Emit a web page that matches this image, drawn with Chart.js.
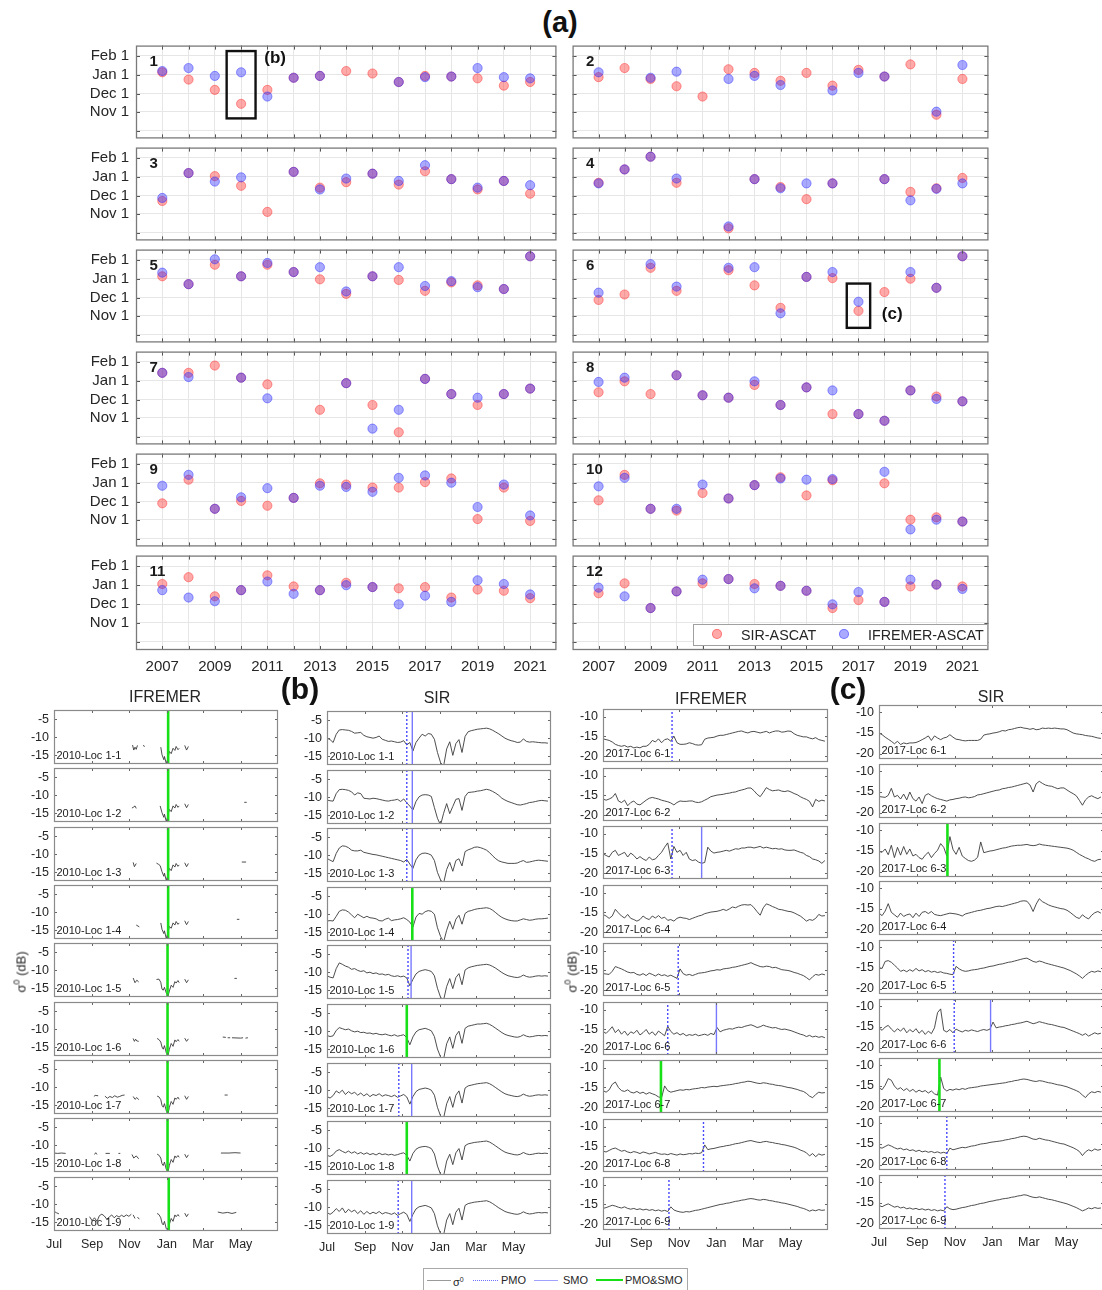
<!DOCTYPE html>
<html>
<head>
<meta charset="utf-8">
<script src="https://cdn.jsdelivr.net/npm/chart.js@4.4.1/dist/chart.umd.min.js"></script>
<style>
  html, body { margin: 0; padding: 0; background: #fff; overflow: hidden; }
  #page { position: relative; width: 1102px; height: 1290px; overflow: hidden;
          font-family: "Liberation Sans", Arial, Helvetica, sans-serif; color: #262626; }
  #page canvas { position: absolute; }
  .t { position: absolute; white-space: nowrap; line-height: 1; transform: translate(-50%, -50%); }
  .lg span { white-space: nowrap; }
</style>
</head>
<body>
<div id="page"></div>
<script>
// ---------------- (a) onset dates per location, days relative to Jan 1 ----------------
const years = [2007, 2008, 2009, 2010, 2011, 2012, 2013, 2014, 2015, 2016, 2017, 2018, 2019, 2020, 2021];
const onsetTickDays = [-92, -61, -31, 0, 31];
const onsetTickLabels = ['', 'Nov 1', 'Dec 1', 'Jan 1', 'Feb 1'];
const locationIds = ['1', '2', '3', '4', '5', '6', '7', '8', '9', '10', '11', '12'];

const sirOnset = [
  [4, -8, -25, -48, -25, -5, -2, 6, 2, -12, -2, -3, -6, -18, -12],
  [-4, 11, -7, -19, -36, 9, 3, -10, 3, -18, 8, -3, 17, -66, -7],
  [-40, 6, 1, -15, -58, 8, -18, -9, 5, -13, 9, -4, -21, -7, -28],
  [-10, 12, 33, -10, null, -85, -4, -17, -37, -11, null, -4, -25, -19, -2],
  [4, -9, 23, 4, 23, 11, -1, -25, 4, -2, -20, -6, -11, -17, 37],
  [-35, -26, 18, -20, null, 14, -11, -48, 3, 1, -53, -22, 0, -15, 37],
  [13, 13, 25, 5, -6, null, -48, -4, -40, -85, 3, -22, -40, -22, -13],
  [-19, -1, -22, 9, -24, -28, -7, -40, -11, -55, -55, -66, -16, -26, -34],
  [-34, 5, -43, -30, -38, -25, -1, -3, -8, -8, 1, 7, -60, -8, -63],
  [-29, 13, -43, -46, -17, -26, -4, 9, -21, 4, null, -1, -61, -57, -64],
  [2, 13, -18, -8, 16, -2, -8, 4, -3, -5, -3, -20, -7, -9, -21],
  [-13, 3, -37, -10, 3, 10, 2, -1, -9, -37, -24, -27, -2, 1, -2]
];
const ifremerOnset = [
  [6, 11, -2, 4, -36, -5, -2, null, null, -12, -4, -3, 11, -4, -6],
  [4, null, -5, 5, null, -7, -2, -17, null, -26, 3, -3, null, -61, 16],
  [-35, 6, -8, -1, null, 8, -21, -3, 5, -7, 19, -4, -18, -7, -14],
  [-11, 12, 33, -3, null, -82, -4, -19, -11, -11, null, -4, -39, -20, -11],
  [10, -9, 32, 4, 26, 11, 19, -21, 4, 19, -12, -4, -14, -17, 37],
  [-23, null, 24, -13, null, 18, 19, -57, 3, 11, -38, null, 11, -15, 37],
  [13, 6, null, 5, -29, null, null, -4, -79, -48, 3, -22, -28, -22, -13],
  [-2, 5, null, 9, -24, -28, -1, -40, -11, -16, -55, -66, -16, -30, -34],
  [-5, 13, -43, -24, -9, -25, -5, -7, -15, 8, 12, 0, -40, -3, -54],
  [-6, 8, -43, -43, -3, -26, -4, 7, 5, 6, null, 18, -77, -61, -64],
  [-8, -20, -26, -8, 6, -14, -8, 0, -3, -31, -17, -27, 8, 2, -15],
  [-4, -18, -37, -10, 9, 10, -5, -1, -9, -31, -11, -27, 9, 1, -6]
];

// ---------------- (b), (c) sigma0 time series, Jul 1 .. Jun 30 ----------------
const monthTickDays = [0, 62, 123, 184, 243, 304];
const monthTickLabels = ['Jul', 'Sep', 'Nov', 'Jan', 'Mar', 'May'];
const sampleStep = 5; // days between samples of the dense series, first sample on Jul 1

// IFREMER 2010, location 1 pixels: sparse [day, dB] pairs, null marks a gap
const ifremer2010 = [
  [[128,-12.2],[130,-13.6],[132,-12.8],[134,-13.4],[136,-12.3],null,[145,-12.3],[148,-12.6],null,
   [174,-12.8],[176,-14.9],[179,-16.3],[180,-15.4],[183,-17.4],[186,-15.6],[188,-14.0],[191,-14.6],[194,-13.1],[197,-13.7],[199,-12.6],[202,-13.5],[204,-13.1],null,
   [213,-12.3],[216,-13.6],[219,-12.6]],
  [[127,-13.6],[130,-13.3],[132,-13.0],[134,-13.7],null,
   [173,-13.0],[176,-14.9],[179,-16.2],[180,-15.3],[183,-17.4],[186,-15.4],[188,-14.0],[191,-14.6],[194,-13.0],[197,-13.6],[199,-12.6],[202,-13.4],[204,-13.0],null,
   [213,-12.4],[216,-13.5],[219,-12.6],null,[310,-12.0],[314,-12.0]],
  [[129,-12.3],[131,-13.5],[134,-12.6],null,
   [167,-12.5],[170,-12.8],[173,-13.2],[176,-14.9],[179,-16.2],[180,-15.3],[183,-17.4],[186,-15.5],[188,-14.0],[191,-14.6],[194,-13.0],[197,-13.6],[199,-12.6],[202,-13.4],[204,-13.0],null,
   [213,-12.4],[216,-13.5],[219,-12.6],null,[306,-12.2],[313,-12.2]],
  [[134,-13.6],[139,-14.1],null,
   [174,-13.0],[176,-14.8],[179,-16.0],[180,-15.2],[183,-17.4],[186,-15.4],[188,-14.0],[191,-14.5],[194,-13.0],[197,-13.6],[199,-12.6],[202,-13.4],[204,-13.0],null,
   [213,-12.4],[216,-13.5],[219,-12.6],null,[298,-12.0],[302,-12.0]],
  [[129,-12.2],[132,-13.5],[135,-12.8],[138,-13.3],null,
   [167,-12.6],[171,-12.5],[174,-13.4],[176,-15.3],[178,-15.6],[180,-14.8],[183,-16.4],[186,-17.2],[188,-15.8],[191,-14.2],[194,-14.8],[197,-13.2],[199,-13.6],[202,-12.9],[204,-13.5],null,
   [213,-12.5],[216,-13.5],[219,-12.7],null,[294,-12.3],[298,-12.3]],
  [[12,-12.2],[13,-12.2],null,[129,-12.6],[131,-13.4],[133,-12.8],[135,-13.3],[138,-13.4],null,
   [168,-12.6],[171,-12.9],[174,-13.6],[176,-15.0],[178,-15.6],[180,-14.6],[183,-16.6],[186,-17.2],[188,-15.6],[191,-14.0],[194,-14.8],[197,-13.0],[199,-13.5],[202,-12.9],[204,-13.4],null,
   [213,-12.5],[216,-13.4],[219,-12.7],null,
   [275,-12.2],[280,-12.3],null,[283,-12.4],[287,-12.4],null,[290,-12.4],[304,-12.5],[308,-12.4],null,[312,-12.5],[316,-12.4]],
  [[5,-12.3],[6,-12.3],null,[65,-12.6],[67,-12.3],[72,-12.4],null,[83,-12.5],[87,-13.1],[91,-12.6],[95,-12.9],[99,-12.4],[103,-12.8],[107,-12.6],[111,-12.3],[115,-12.2],null,
   [129,-12.6],[132,-13.4],[135,-12.9],[138,-13.5],null,
   [168,-12.5],[171,-12.7],[174,-13.5],[176,-15.1],[178,-15.6],[180,-14.6],[183,-16.6],[186,-17.3],[188,-15.6],[191,-14.0],[194,-14.8],[197,-13.0],[199,-13.4],[202,-12.8],[204,-13.4],null,
   [213,-12.4],[216,-13.4],[219,-12.6],null,[278,-12.2],[283,-12.2]],
  [[0,-12.2],[6,-12.3],[12,-12.2],[19,-12.3],null,[66,-12.6],[68,-12.1],[70,-12.6],null,[84,-12.3],[91,-12.3],null,[105,-12.3],[108,-12.3],null,
   [127,-12.6],[130,-13.6],[134,-13.0],[138,-13.8],null,
   [168,-12.5],[171,-12.8],[174,-13.6],[176,-15.2],[178,-15.7],[180,-14.7],[183,-16.8],[186,-17.3],[188,-15.6],[191,-14.0],[194,-14.8],[197,-13.0],[199,-13.5],[202,-12.9],[204,-13.4],null,
   [213,-12.5],[216,-13.5],[219,-12.7],null,[272,-12.2],[285,-12.2],[295,-12.1],[304,-12.2]],
  [[0,-12.0],[4,-12.4],[8,-12.7],null,[58,-13.5],[62,-14.6],[66,-13.8],[70,-14.8],[74,-13.2],[78,-12.8],[82,-13.3],[86,-14.2],[90,-13.6],[94,-13.0],[98,-13.8],[102,-13.2],[106,-13.6],[110,-13.1],[114,-13.5],[118,-13.0],[122,-13.4],[126,-12.8],null,
   [129,-13.0],[132,-14.0],null,[136,-13.6],[139,-14.2],null,
   [168,-12.6],[171,-12.9],[174,-13.8],[176,-15.3],[178,-15.8],[180,-14.8],[183,-16.9],[186,-17.4],[188,-15.6],[191,-14.0],[194,-14.8],[197,-13.0],[199,-13.5],[202,-12.9],[204,-13.4],null,
   [213,-12.5],[216,-13.5],[219,-12.7],null,[267,-12.2],[275,-12.5],[283,-12.3],[290,-12.6],[297,-12.3]]
];

// SIR 2010, location 1 pixels, one value every sampleStep days
const sir2010 = [
  [-10.0,-10.4,-11.2,-8.9,-7.7,-7.6,-7.7,-7.8,-8.1,-8.6,
   -8.5,-8.4,-9.2,-9.6,-9.8,-10.0,-9.8,-9.4,-10.3,-10.6,
   -10.9,-10.8,-11.0,-11.2,-11.1,-10.7,-11.9,-11.2,-13.6,-11.2,
   -10.0,-8.9,-9.4,-8.7,-8.9,-10.3,-14.0,-16.8,-17.8,-13.0,
   -11.0,-14.8,-11.5,-10.4,-14.0,-9.5,-8.2,-7.9,-7.7,-7.5,
   -7.4,-7.3,-7.2,-7.4,-7.8,-8.3,-8.8,-9.4,-10.0,-10.4,
   -10.7,-10.9,-11.2,-11.1,-10.2,-10.9,-11.1,-11.0,-11.1,-11.2,
   -11.3,-11.3,-11.4],
  [-10.8,-11.0,-11.1,-9.0,-7.9,-7.8,-7.9,-8.1,-8.5,-9.4,
   -8.8,-9.0,-10.3,-10.4,-10.5,-10.3,-10.4,-10.6,-10.8,-11.0,
   -11.1,-10.9,-10.8,-10.6,-11.2,-10.5,-11.6,-12.5,-13.6,-11.2,
   -9.9,-9.4,-9.3,-9.4,-9.8,-12.9,-15.9,-17.8,-14.5,-11.8,
   -14.6,-12.6,-10.6,-10.4,-13.7,-9.8,-8.7,-8.6,-8.5,-8.3,
   -8.2,-8.0,-7.8,-8.0,-8.4,-8.9,-9.5,-10.3,-10.8,-11.2,
   -11.5,-11.8,-12.1,-12.2,-12.0,-11.8,-11.5,-11.4,-11.2,-11.0,
   -10.9,-11.0,-11.1],
  [-10.9,-11.4,-11.8,-9.5,-8.0,-7.4,-7.5,-7.9,-8.6,-8.8,
   -8.8,-8.6,-9.2,-9.4,-9.6,-9.8,-9.9,-10.1,-10.3,-10.5,
   -10.7,-10.9,-11.1,-11.3,-11.5,-11.9,-11.2,-12.5,-13.7,-11.3,
   -10.0,-9.5,-9.4,-9.6,-10.0,-11.5,-14.8,-16.9,-17.8,-14.0,
   -12.0,-14.5,-11.5,-11.0,-13.0,-9.0,-8.5,-8.2,-7.8,-7.7,
   -7.9,-8.2,-8.6,-9.3,-10.2,-11.0,-11.6,-11.9,-12.1,-12.3,
   -12.3,-12.3,-12.2,-11.8,-11.5,-12.0,-11.9,-11.7,-11.5,-11.4,
   -11.5,-11.6,-11.7],
  [-11.9,-11.8,-11.9,-10.6,-9.2,-8.8,-8.9,-9.4,-10.2,-11.0,
   -10.0,-10.5,-11.0,-10.6,-11.0,-11.1,-11.3,-11.8,-11.9,-11.4,
   -11.1,-11.8,-11.6,-11.5,-11.3,-11.0,-11.5,-12.2,-13.6,-10.8,
   -9.8,-10.0,-9.3,-9.0,-9.2,-10.0,-13.8,-16.2,-17.8,-14.5,
   -12.0,-14.2,-11.4,-10.3,-12.8,-9.8,-9.2,-9.0,-8.7,-8.5,
   -8.4,-8.3,-8.2,-8.4,-8.9,-9.6,-10.3,-10.9,-11.3,-11.6,
   -11.8,-11.9,-11.9,-11.6,-11.3,-11.5,-11.7,-11.6,-11.4,-11.3,
   -11.3,-11.2,-11.1],
  [-11.0,-11.4,-11.6,-9.0,-7.4,-7.8,-8.3,-8.6,-9.2,-9.0,
   -9.5,-9.8,-9.6,-10.2,-10.0,-10.4,-10.2,-10.6,-10.5,-10.8,
   -10.6,-11.0,-11.2,-11.0,-11.3,-11.1,-11.6,-13.8,-12.0,-10.5,
   -9.8,-9.5,-9.3,-9.5,-9.8,-11.0,-14.5,-17.0,-17.8,-14.0,
   -11.8,-14.6,-11.5,-10.4,-13.5,-9.4,-8.8,-8.5,-8.3,-8.1,
   -8.0,-7.9,-7.8,-8.0,-8.4,-8.9,-9.5,-10.1,-10.6,-11.0,
   -11.2,-11.4,-11.5,-11.3,-10.8,-11.2,-11.4,-11.3,-11.1,-11.0,
   -11.1,-11.0,-11.1],
  [-11.2,-11.5,-11.3,-9.8,-9.0,-9.3,-9.6,-9.4,-9.9,-10.2,
   -10.0,-10.4,-10.3,-10.6,-10.5,-10.8,-10.6,-10.9,-11.0,-10.8,
   -11.1,-11.3,-11.0,-11.4,-11.2,-11.0,-11.8,-13.8,-11.6,-10.2,
   -9.6,-9.4,-9.2,-9.5,-9.9,-11.5,-15.0,-17.2,-17.8,-13.5,
   -11.6,-14.8,-11.2,-10.0,-13.4,-9.2,-8.6,-8.4,-8.2,-8.0,
   -8.0,-7.9,-7.8,-8.1,-8.6,-9.2,-9.8,-10.4,-10.9,-11.2,
   -11.4,-11.6,-11.7,-11.5,-11.0,-11.4,-11.6,-11.5,-11.3,-11.2,
   -11.3,-11.2,-11.3],
  [-11.8,-12.2,-11.5,-10.2,-10.8,-10.0,-11.2,-10.4,-11.0,-10.6,
   -11.4,-10.8,-11.6,-11.0,-11.8,-11.2,-11.5,-11.0,-11.7,-11.3,
   -11.5,-11.8,-11.4,-12.0,-11.6,-11.2,-11.9,-13.9,-11.8,-10.4,
   -9.8,-9.6,-9.4,-9.6,-10.0,-11.4,-14.8,-17.2,-17.8,-13.8,
   -11.8,-14.8,-11.4,-10.2,-13.6,-9.4,-8.8,-8.6,-8.4,-8.2,
   -8.1,-8.0,-7.9,-8.2,-8.7,-9.3,-9.9,-10.5,-11.0,-11.3,
   -11.5,-11.7,-11.8,-11.6,-11.1,-11.5,-11.7,-11.6,-11.4,-11.3,
   -11.4,-11.3,-11.4],
  [-12.0,-12.3,-11.8,-10.8,-10.4,-10.9,-11.3,-10.8,-11.4,-11.0,
   -11.6,-11.2,-11.7,-11.3,-11.8,-11.5,-11.9,-11.4,-11.8,-11.6,
   -11.9,-11.7,-12.0,-11.8,-11.5,-11.3,-12.0,-13.6,-11.5,-10.3,
   -9.8,-9.6,-9.5,-9.7,-10.1,-11.6,-15.0,-17.3,-17.8,-13.6,
   -11.7,-14.6,-11.3,-10.1,-13.3,-9.3,-8.8,-8.6,-8.4,-8.3,
   -8.2,-8.1,-8.0,-8.3,-8.8,-9.4,-10.0,-10.6,-11.1,-11.4,
   -11.6,-11.8,-11.9,-11.7,-11.2,-11.6,-11.8,-11.7,-11.5,-11.4,
   -11.5,-11.4,-11.5],
  [-11.5,-12.0,-11.4,-10.4,-11.2,-10.2,-11.6,-10.6,-11.3,-10.8,
   -11.8,-11.0,-12.0,-11.2,-11.9,-11.4,-11.8,-11.2,-11.9,-11.5,
   -11.7,-12.0,-11.6,-12.3,-11.8,-11.4,-12.0,-14.0,-12.0,-10.5,
   -9.9,-9.7,-9.5,-9.8,-10.2,-11.8,-15.2,-17.4,-17.8,-13.6,
   -11.8,-14.9,-11.4,-10.3,-13.6,-9.5,-9.0,-8.8,-8.6,-8.5,
   -8.4,-8.3,-8.2,-8.5,-9.0,-9.6,-10.2,-10.7,-11.2,-11.5,
   -11.7,-11.9,-12.0,-11.8,-11.3,-11.7,-11.9,-11.8,-11.6,-11.5,
   -11.6,-11.5,-11.6]
];

// IFREMER 2017, location 6 pixels
const ifremer2017 = [
  [-15.6,-15.8,-16.0,-16.4,-17.0,-17.3,-17.5,-17.3,-17.7,-17.5,
   -17.9,-17.7,-17.9,-17.5,-17.5,-17.0,-16.0,-16.4,-15.6,-16.6,
   -15.8,-15.6,-16.2,-14.9,-16.6,-17.0,-17.0,-16.9,-16.6,-16.8,
   -17.1,-17.2,-17.1,-15.7,-15.4,-15.3,-15.2,-14.9,-14.7,-14.7,
   -14.5,-14.3,-14.1,-13.9,-13.7,-13.6,-13.9,-14.1,-13.8,-13.7,
   -13.9,-14.1,-13.9,-13.7,-14.1,-13.8,-13.6,-13.6,-13.9,-13.8,
   -13.6,-13.7,-14.3,-14.7,-14.9,-15.1,-15.1,-15.4,-15.6,-15.3,
   -15.8,-16.0,-16.2],
  [-15.9,-16.2,-15.9,-15.5,-14.5,-16.4,-16.8,-16.2,-17.6,-16.8,
   -16.4,-17.2,-17.4,-16.8,-16.2,-15.7,-15.5,-15.7,-15.9,-16.2,
   -16.4,-16.6,-16.9,-17.4,-16.8,-16.4,-16.5,-16.5,-16.4,-16.4,
   -16.7,-16.8,-16.6,-16.2,-15.8,-15.3,-15.1,-14.9,-14.8,-14.7,
   -14.5,-14.4,-14.2,-14.1,-13.8,-13.6,-13.4,-13.1,-13.1,-13.8,
   -14.7,-15.3,-14.2,-13.0,-13.5,-13.8,-13.7,-13.6,-13.9,-14.0,
   -13.8,-14.1,-14.5,-14.8,-15.3,-15.7,-16.0,-16.5,-17.9,-16.0,
   -16.5,-16.2,-16.4],
  [-15.1,-15.5,-15.9,-14.7,-14.2,-15.5,-15.1,-14.7,-15.9,-14.9,
   -15.5,-16.4,-15.8,-16.4,-16.8,-15.9,-16.6,-16.4,-15.5,-14.7,
   -13.4,-12.3,-16.4,-13.2,-14.7,-14.2,-15.5,-14.7,-16.4,-16.8,
   -16.6,-17.2,-17.5,-17.3,-13.4,-14.4,-14.9,-14.7,-14.6,-14.4,
   -14.2,-14.4,-14.1,-13.8,-13.9,-13.6,-13.6,-13.4,-13.4,-13.6,
   -13.4,-13.2,-13.6,-13.4,-13.6,-13.8,-13.7,-13.9,-13.8,-14.1,
   -14.2,-14.2,-14.1,-14.4,-14.7,-14.9,-15.5,-15.8,-16.4,-16.6,
   -16.9,-17.5,-16.8],
  [-15.5,-15.9,-16.5,-15.9,-14.2,-15.1,-15.9,-16.4,-15.5,-16.5,
   -16.8,-17.2,-16.8,-15.9,-16.5,-16.8,-15.9,-16.4,-15.8,-16.5,
   -16.2,-17.0,-16.8,-17.2,-16.5,-16.2,-16.4,-16.5,-16.8,-16.5,
   -16.2,-15.9,-15.7,-15.3,-15.1,-14.9,-14.8,-14.7,-14.5,-14.2,
   -14.5,-14.1,-13.6,-13.8,-13.4,-13.1,-13.0,-13.1,-13.0,-13.8,
   -14.8,-15.7,-13.8,-12.8,-13.1,-13.5,-13.8,-14.2,-14.3,-14.5,
   -14.7,-14.8,-15.1,-15.5,-15.9,-16.5,-17.2,-16.8,-17.0,-16.5,
   -15.5,-15.9,-15.8],
  [-15.8,-15.9,-16.0,-15.2,-14.0,-14.3,-14.6,-15.0,-15.4,-15.6,
   -15.5,-16.0,-16.2,-15.8,-16.3,-15.7,-16.0,-16.4,-15.9,-16.3,
   -16.1,-16.5,-16.2,-16.6,-17.0,-14.6,-15.8,-16.2,-16.0,-16.3,
   -16.0,-15.7,-15.6,-15.5,-15.3,-15.1,-15.0,-14.8,-14.9,-14.6,
   -14.5,-14.4,-14.2,-14.1,-13.9,-13.7,-13.5,-13.3,-13.0,-13.4,
   -13.7,-14.0,-14.1,-13.9,-14.0,-14.3,-14.2,-14.5,-14.8,-14.9,
   -15.0,-15.2,-15.5,-15.7,-16.0,-16.3,-16.8,-17.4,-16.6,-16.0,
   -16.2,-15.9,-16.1],
  [-15.5,-16.0,-15.2,-14.3,-15.8,-15.0,-16.2,-15.4,-16.5,-15.6,
   -16.0,-15.2,-16.4,-15.8,-15.0,-16.2,-15.6,-16.5,-15.4,-16.0,
   -16.6,-14.2,-15.5,-16.2,-15.8,-16.4,-16.0,-16.6,-16.3,-16.5,
   -16.2,-16.6,-16.4,-16.2,-16.5,-16.0,-16.3,-14.5,-15.6,-15.2,
   -15.0,-14.8,-14.9,-14.6,-14.4,-14.5,-14.2,-14.0,-13.8,-14.1,
   -14.5,-14.3,-13.9,-14.2,-14.4,-14.6,-14.5,-14.8,-15.0,-14.9,
   -15.1,-15.3,-15.6,-15.9,-16.2,-16.4,-16.8,-16.5,-16.9,-16.7,
   -17.0,-16.8,-17.1],
  [-15.8,-16.2,-15.6,-14.2,-13.6,-15.0,-15.8,-16.0,-15.6,-16.2,
   -16.4,-16.0,-16.5,-16.2,-16.7,-16.3,-16.6,-16.9,-17.4,-17.6,
   -14.6,-15.8,-16.2,-16.0,-15.8,-15.6,-15.7,-15.5,-15.6,-15.4,
   -15.3,-15.2,-15.0,-15.1,-14.9,-14.8,-14.7,-14.8,-14.6,-14.5,
   -14.4,-14.3,-14.2,-14.0,-13.9,-13.7,-13.6,-13.4,-13.5,-13.7,
   -13.9,-14.0,-13.8,-13.9,-14.1,-14.2,-14.4,-14.5,-14.6,-14.8,
   -15.0,-15.1,-15.3,-15.5,-15.8,-16.0,-16.5,-17.2,-17.6,-16.8,
   -16.2,-16.4,-16.3],
  [-16.2,-16.4,-16.0,-15.6,-15.4,-15.8,-16.2,-16.0,-16.4,-16.6,
   -16.3,-16.5,-16.8,-16.4,-16.6,-16.9,-16.7,-16.5,-16.8,-17.0,
   -16.9,-17.1,-16.8,-17.0,-17.2,-16.9,-17.1,-17.0,-16.8,-16.9,
   -16.7,-16.8,-16.6,-14.6,-15.8,-15.6,-15.5,-15.3,-15.1,-15.0,
   -14.8,-14.7,-14.5,-14.3,-14.2,-14.0,-13.8,-13.6,-13.5,-13.7,
   -13.9,-14.0,-13.8,-13.7,-13.9,-14.0,-14.2,-14.3,-14.5,-14.6,
   -14.8,-15.0,-15.2,-15.5,-15.9,-16.2,-16.6,-17.4,-16.8,-17.6,
   -16.9,-17.2,-17.0],
  [-16.0,-15.8,-15.5,-15.2,-15.4,-15.7,-15.9,-15.6,-16.0,-16.2,
   -16.0,-16.3,-16.1,-16.4,-16.2,-16.5,-16.3,-16.6,-16.4,-16.7,
   -16.5,-16.8,-15.6,-16.4,-16.7,-16.9,-17.0,-16.8,-16.9,-16.7,
   -16.5,-16.4,-16.2,-16.0,-15.8,-15.6,-15.4,-15.2,-15.0,-14.9,
   -14.7,-14.6,-14.4,-14.2,-14.1,-13.9,-13.8,-13.6,-13.5,-13.6,
   -13.8,-13.9,-13.7,-13.8,-14.0,-14.1,-14.3,-14.4,-14.6,-14.7,
   -14.9,-15.1,-15.3,-15.5,-15.8,-16.0,-16.3,-16.7,-16.4,-16.6,
   -16.3,-16.5,-16.4]
];

// SIR 2017, location 6 pixels
const sir2017 = [
  [-15.0,-15.4,-16.0,-16.5,-17.0,-17.6,-17.0,-17.8,-17.4,-17.6,
   -17.4,-17.4,-17.3,-17.0,-16.6,-16.2,-15.7,-16.8,-15.7,-16.2,
   -16.6,-16.2,-16.0,-15.4,-16.0,-16.5,-16.6,-16.8,-16.9,-16.8,
   -16.8,-16.8,-16.8,-16.5,-15.5,-15.3,-15.2,-15.0,-14.9,-14.7,
   -14.4,-14.5,-14.2,-14.1,-13.9,-13.7,-13.6,-13.8,-13.9,-14.1,
   -13.9,-14.2,-14.1,-13.8,-13.9,-13.8,-13.9,-13.8,-13.9,-14.0,
   -14.0,-14.2,-14.6,-15.0,-15.2,-15.3,-15.4,-15.6,-15.7,-15.8,
   -16.0,-16.2,-16.3],
  [-16.1,-16.2,-16.3,-15.8,-14.1,-16.2,-15.8,-16.7,-15.5,-16.9,
   -15.0,-16.6,-17.2,-16.2,-17.8,-15.8,-15.4,-15.9,-16.3,-16.6,
   -16.8,-17.0,-17.2,-16.9,-16.8,-16.6,-16.5,-16.3,-16.2,-16.4,
   -16.3,-16.1,-15.7,-15.6,-15.4,-15.2,-15.0,-14.8,-14.6,-14.5,
   -14.2,-14.1,-13.9,-13.8,-13.6,-13.4,-13.2,-13.0,-12.8,-13.3,
   -15.0,-13.0,-12.4,-12.9,-13.3,-13.5,-13.6,-13.9,-14.2,-14.0,
   -14.0,-14.5,-15.0,-15.4,-15.9,-17.0,-18.2,-16.9,-16.2,-15.9,
   -16.3,-16.6,-16.2],
  [-15.1,-15.3,-14.5,-15.9,-13.6,-16.6,-14.1,-16.0,-13.9,-15.8,
   -14.5,-16.2,-15.8,-16.6,-17.0,-16.0,-15.3,-16.6,-15.6,-14.8,
   -13.2,-14.1,-16.2,-11.5,-14.6,-15.8,-14.1,-16.2,-16.8,-17.3,
   -17.5,-17.2,-16.5,-12.8,-15.4,-15.2,-15.0,-14.9,-14.7,-14.5,
   -14.3,-14.2,-14.0,-13.8,-13.7,-13.6,-13.6,-13.5,-13.4,-13.6,
   -13.7,-13.6,-13.3,-13.5,-13.6,-13.7,-13.8,-13.9,-14.0,-14.1,
   -14.2,-14.3,-14.5,-14.8,-15.3,-15.8,-16.2,-16.6,-16.9,-17.3,
   -17.5,-17.1,-17.0],
  [-16.0,-16.6,-15.5,-13.7,-15.8,-16.4,-17.0,-16.0,-16.8,-16.4,
   -16.2,-17.1,-16.0,-16.8,-15.8,-15.6,-16.1,-15.6,-16.3,-16.5,
   -16.6,-16.4,-16.2,-16.0,-16.1,-16.2,-16.4,-16.7,-16.2,-16.0,
   -15.8,-15.6,-15.4,-15.3,-15.1,-14.9,-14.8,-14.6,-14.4,-14.3,
   -14.4,-14.2,-14.0,-13.8,-13.6,-13.4,-13.1,-13.0,-13.1,-14.0,
   -15.6,-13.8,-12.5,-13.2,-13.6,-14.0,-14.3,-14.5,-14.7,-14.9,
   -15.0,-15.3,-15.8,-16.4,-17.0,-17.3,-16.4,-17.0,-17.4,-16.5,
   -15.9,-15.6,-16.0],
  [-14.9,-15.1,-13.4,-13.2,-13.6,-14.3,-15.0,-15.8,-15.5,-15.9,
   -15.4,-15.8,-15.1,-15.7,-15.4,-15.9,-15.6,-16.0,-15.8,-16.1,
   -15.9,-16.2,-16.3,-16.5,-16.6,-14.6,-15.2,-15.6,-15.8,-15.7,
   -15.5,-15.4,-15.3,-15.1,-15.0,-14.8,-14.6,-14.5,-14.3,-14.1,
   -14.0,-13.8,-13.6,-13.5,-13.3,-13.1,-12.9,-12.7,-12.6,-13.0,
   -13.4,-13.6,-13.3,-13.5,-13.8,-14.0,-14.2,-14.4,-14.6,-14.8,
   -15.0,-15.3,-15.6,-16.0,-16.4,-16.9,-17.5,-16.8,-16.2,-15.8,
   -16.0,-15.7,-15.9],
  [-15.2,-15.8,-15.0,-14.6,-15.5,-16.2,-15.4,-16.0,-15.2,-16.4,
   -15.6,-16.2,-15.4,-16.5,-15.8,-16.8,-16.0,-16.6,-15.2,-11.5,
   -10.6,-15.8,-16.2,-15.6,-16.4,-15.5,-15.9,-16.2,-15.8,-16.0,
   -15.7,-15.9,-16.1,-15.8,-15.6,-15.8,-15.5,-13.8,-15.2,-15.0,
   -14.9,-14.7,-14.6,-14.4,-14.3,-14.1,-14.0,-13.8,-13.6,-13.9,
   -14.2,-14.0,-13.7,-13.9,-14.1,-14.3,-14.4,-14.6,-14.8,-15.0,
   -15.1,-15.4,-15.7,-16.0,-16.3,-16.6,-17.0,-16.6,-17.2,-16.8,
   -16.4,-16.7,-16.5],
  [-15.4,-15.9,-14.8,-13.2,-13.6,-15.0,-15.8,-15.4,-16.1,-15.6,
   -16.3,-15.8,-16.5,-16.0,-16.4,-16.1,-16.7,-16.2,-16.9,-17.2,
   -12.8,-15.6,-16.2,-15.8,-16.0,-15.7,-15.9,-15.6,-15.8,-15.5,
   -15.4,-15.3,-15.2,-15.0,-14.9,-14.8,-14.7,-14.6,-14.5,-14.4,
   -14.3,-14.2,-14.0,-13.9,-13.7,-13.6,-13.4,-13.3,-13.4,-13.6,
   -13.8,-13.9,-13.7,-13.8,-14.0,-14.2,-14.3,-14.5,-14.7,-14.8,
   -15.0,-15.2,-15.5,-15.8,-16.1,-16.5,-17.2,-17.8,-16.9,-16.4,
   -16.6,-16.3,-16.5],
  [-15.8,-16.0,-15.6,-15.2,-15.5,-15.9,-16.2,-16.0,-16.4,-16.2,
   -16.6,-16.4,-16.8,-16.5,-16.9,-16.7,-17.0,-16.8,-17.1,-16.9,
   -17.2,-17.0,-17.3,-16.0,-16.4,-16.2,-16.0,-15.8,-15.9,-15.7,
   -15.5,-15.4,-15.2,-15.0,-14.9,-14.8,-14.6,-14.5,-14.4,-14.3,
   -14.2,-14.0,-13.9,-13.7,-13.6,-13.4,-13.2,-13.1,-13.2,-13.5,
   -13.8,-13.9,-13.6,-13.8,-14.0,-14.1,-14.3,-14.5,-14.7,-14.9,
   -15.0,-15.3,-15.6,-15.9,-16.3,-16.8,-17.8,-16.9,-16.4,-16.7,
   -16.2,-16.5,-16.3],
  [-15.6,-15.9,-15.5,-15.2,-15.6,-16.0,-15.8,-16.2,-16.0,-16.4,
   -16.2,-16.5,-16.3,-16.6,-16.4,-16.7,-16.5,-16.8,-16.6,-16.9,
   -16.7,-16.9,-15.9,-16.4,-16.6,-16.5,-16.3,-16.1,-16.0,-15.8,
   -15.6,-15.5,-15.3,-15.1,-15.0,-14.8,-14.6,-14.5,-14.3,-14.2,
   -14.0,-13.9,-13.8,-13.6,-13.5,-13.3,-13.2,-13.0,-13.1,-13.4,
   -13.6,-13.7,-13.5,-13.7,-13.9,-14.1,-14.2,-14.4,-14.6,-14.8,
   -15.0,-15.2,-15.5,-15.8,-16.1,-16.5,-16.9,-16.6,-16.2,-16.4,
   -16.1,-16.3,-16.2]
];

// detected melt-onset days (days since Jul 1) per pixel; null = not detected
const ifremer2010Pmo = [null, null, null, null, null, null, null, null, null];
const ifremer2010Smo = [null, null, null, null, null, null, null, null, null];
const ifremer2010Both = [186, 186, 186, 186, 185, 185, 185, 185, 187];
const sir2010Pmo = [130, 130, 130, null, 132, null, 117, null, 116];
const sir2010Smo = [139, 139, 139, null, 137, null, 138, null, 138];
const sir2010Both = [null, null, null, 139, null, 130, null, 130, null];
const ifremer2017Pmo = [112, null, 112, null, 122, 105, null, 163, 107];
const ifremer2017Smo = [null, null, 160, null, null, 184, null, null, null];
const ifremer2017Both = [null, null, null, null, null, null, 94, null, null];
const sir2017Pmo = [null, null, null, null, 121, 122, null, 110, 107];
const sir2017Smo = [null, null, null, null, null, 181, null, null, null];
const sir2017Both = [null, null, 111, null, null, null, 98, null, null];

// ---------------- drawing ----------------
const FONT = '"Liberation Sans", Arial, Helvetica, sans-serif';
Chart.defaults.font.family = FONT;
const page = document.getElementById('page');

function addText(html, x, y, style) {
  const d = document.createElement('div');
  d.className = 't';
  d.innerHTML = html;
  d.style.left = x + 'px';
  d.style.top = y + 'px';
  Object.assign(d.style, style || {});
  page.appendChild(d);
  return d;
}

function makeCanvas(rect, pad) {
  const cv = document.createElement('canvas');
  const W = rect.w + pad.l + pad.r, H = rect.h + pad.t + pad.b;
  cv.width = W; cv.height = H;
  cv.style.left = (rect.x - pad.l) + 'px';
  cv.style.top = (rect.y - pad.t) + 'px';
  cv.style.width = W + 'px';
  cv.style.height = H + 'px';
  page.appendChild(cv);
  return cv;
}

// fixed axis sizes, no extra room reserved for edge labels
function fixSize(size, horizontal) {
  return s => {
    if (horizontal) s.height = size; else s.width = size;
    s.paddingTop = 0; s.paddingBottom = 0; s.paddingLeft = 0; s.paddingRight = 0;
  };
}

// axes box with inward tick marks on all four sides, plus in-panel labels
function framePlugin(o) {
  return {
    id: 'frame',
    afterDatasetsDraw(chart) {
      const ctx = chart.ctx, a = chart.chartArea, sx = chart.scales.x, sy = chart.scales.y;
      ctx.save();
      ctx.lineWidth = 1;
      ctx.strokeStyle = o.tickColor;
      ctx.beginPath();
      for (const t of sx.ticks) {
        const p = Math.round(sx.getPixelForValue(t.value)) + 0.5;
        if (p < a.left + 2 || p > a.right - 2) continue;
        ctx.moveTo(p, a.bottom); ctx.lineTo(p, a.bottom - o.tickLen);
        ctx.moveTo(p, a.top); ctx.lineTo(p, a.top + o.tickLen);
      }
      for (const t of sy.ticks) {
        const p = Math.round(sy.getPixelForValue(t.value)) + 0.5;
        if (p < a.top + 2 || p > a.bottom - 2) continue;
        ctx.moveTo(a.left, p); ctx.lineTo(a.left + o.tickLen, p);
        ctx.moveTo(a.right, p); ctx.lineTo(a.right - o.tickLen, p);
      }
      ctx.stroke();
      ctx.lineWidth = o.frameWidth;
      ctx.strokeStyle = o.frameColor;
      ctx.strokeRect(a.left + 0.5, a.top + 0.5, a.right - a.left - 1, a.bottom - a.top - 1);
      if (o.box) {
        const b = o.box;
        const x0 = sx.getPixelForValue(b.x0), x1 = sx.getPixelForValue(b.x1);
        const y0 = sy.getPixelForValue(b.y0), y1 = sy.getPixelForValue(b.y1);
        ctx.lineWidth = 2.4; ctx.strokeStyle = '#111';
        ctx.strokeRect(x0, y1, x1 - x0, y0 - y1);
        ctx.fillStyle = '#111';
        ctx.font = 'bold 17px ' + FONT;
        ctx.textAlign = 'left'; ctx.textBaseline = 'middle';
        ctx.fillText(b.text, sx.getPixelForValue(b.tx), sy.getPixelForValue(b.ty));
      }
      if (o.label) {
        ctx.fillStyle = '#1a1a1a';
        ctx.font = o.labelFont;
        ctx.textAlign = 'left'; ctx.textBaseline = 'middle';
        ctx.fillText(o.label, a.left + o.labelDx, o.labelFromTop ? a.top + o.labelDy : a.bottom - o.labelDy);
      }
      ctx.restore();
    }
  };
}

// ---- (a) twelve onset panels ----
const onsetRowTops = [44, 146, 248, 350, 452, 554];
const onsetBoxes = {
  0: {x0: 2009.45, x1: 2010.55, y0: -72, y1: 39, text: '(b)', tx: 2010.88, ty: 27},
  5: {x0: 2016.55, x1: 2017.45, y0: -81, y1: -8, text: '(c)', tx: 2017.9, ty: -58}
};

function toPoints(vals) {
  const pts = [];
  vals.forEach((v, k) => { if (v !== null) pts.push({x: years[k], y: v}); });
  return pts;
}

locationIds.forEach((id, k) => {
  const col = k % 2, row = Math.floor(k / 2);
  const rect = {x: col ? 567 : 136, y: onsetRowTops[row], w: col ? 423 : 422, h: 96};
  const showY = col === 0, showX = row === 5;
  const pad = {l: showY ? 70 : 0, t: 4, r: 4, b: showX ? 30 : 4};
  const cv = makeCanvas(rect, pad);
  const tickFont = {family: FONT, size: 15};
  new Chart(cv, {
    type: 'scatter',
    data: {
      datasets: [
        {label: 'IFREMER-ASCAT', data: toPoints(ifremerOnset[k]), pointRadius: 4.6, pointHoverRadius: 4.6,
         backgroundColor: 'rgba(40,40,255,0.40)', borderColor: 'rgba(40,40,255,0.45)', borderWidth: 1},
        {label: 'SIR-ASCAT', data: toPoints(sirOnset[k]), pointRadius: 4.6, pointHoverRadius: 4.6,
         backgroundColor: 'rgba(255,40,40,0.40)', borderColor: 'rgba(255,40,40,0.45)', borderWidth: 1}
      ]
    },
    options: {
      responsive: false, animation: false, devicePixelRatio: 1,
      layout: {padding: {left: 0, top: pad.t, right: pad.r, bottom: 0}},
      plugins: {legend: {display: false}, tooltip: {enabled: false}},
      scales: {
        x: {
          type: 'linear', min: 2006, max: 2022,
          afterBuildTicks: s => { s.ticks = years.map(v => ({value: v})); },
          afterFit: fixSize(pad.b, true),
          grid: {display: true, color: '#e6e6e6', lineWidth: 1, drawTicks: false},
          border: {display: false},
          ticks: {display: showX, autoSkip: false, maxRotation: 0, padding: 8, color: '#262626', font: tickFont,
                  callback: v => ((v - years[0]) % 2 === 0 ? String(v) : '')}
        },
        y: {
          type: 'linear', min: -105, max: 48,
          afterBuildTicks: s => { s.ticks = onsetTickDays.map(v => ({value: v})); },
          afterFit: fixSize(pad.l, false),
          grid: {display: true, color: '#e6e6e6', lineWidth: 1, drawTicks: false},
          border: {display: false},
          ticks: {display: showY, autoSkip: false, padding: 7, color: '#262626', font: tickFont,
                  callback: v => onsetTickLabels[onsetTickDays.indexOf(v)]}
        }
      }
    },
    plugins: [framePlugin({tickLen: 4, tickColor: '#555', frameWidth: 1.3, frameColor: '#7a7a7a',
                           box: onsetBoxes[k], label: id, labelFont: 'bold 15px ' + FONT,
                           labelDx: 13.5, labelDy: 16, labelFromTop: true})]
  });
});

// ---- (b), (c) sigma0 panels ----
const seriesColumns = [
  {title: 'IFREMER', tag: '2010-Loc 1-', sparse: ifremer2010, pmo: ifremer2010Pmo, smo: ifremer2010Smo, both: ifremer2010Both,
   x: 54, w: 224, top: 710, pitch: 58.35, h: 54, yMin: -17.5, yMax: -2.4, yTicks: [-15, -10, -5]},
  {title: 'SIR', tag: '2010-Loc 1-', dense: sir2010, pmo: sir2010Pmo, smo: sir2010Smo, both: sir2010Both,
   x: 327, w: 224, top: 711, pitch: 58.6, h: 54, yMin: -17.5, yMax: -2.4, yTicks: [-15, -10, -5]},
  {title: 'IFREMER', tag: '2017-Loc 6-', dense: ifremer2017, pmo: ifremer2017Pmo, smo: ifremer2017Smo, both: ifremer2017Both,
   x: 603, w: 225, top: 709, pitch: 58.5, h: 53, yMin: -21.5, yMax: -8.0, yTicks: [-20, -15, -10]},
  {title: 'SIR', tag: '2017-Loc 6-', dense: sir2017, pmo: sir2017Pmo, smo: sir2017Smo, both: sir2017Both,
   x: 879, w: 225, top: 705, pitch: 58.75, h: 54, yMin: -21.3, yMax: -8.2, yTicks: [-20, -15, -10]}
];

function sparsePoints(pairs) {
  const pts = [];
  let last = 0;
  pairs.forEach(p => {
    if (p === null) pts.push({x: last + 0.5, y: null});
    else { pts.push({x: p[0], y: p[1]}); last = p[0]; }
  });
  return pts;
}
function densePoints(vals) {
  return vals.map((v, i) => ({x: i * sampleStep, y: v}));
}
function markerLine(day, c, style) {
  return Object.assign({data: [{x: day, y: c.yMin}, {x: day, y: c.yMax}], pointRadius: 0, tension: 0, fill: false}, style);
}
const pmoStyle = {borderColor: '#4848ff', borderWidth: 1.4, borderDash: [2, 2]};
const smoStyle = {borderColor: '#7878ff', borderWidth: 1.4};
const bothStyle = {borderColor: '#18e018', borderWidth: 2.6};

seriesColumns.forEach(c => {
  for (let i = 0; i < 9; i++) {
    const rect = {x: c.x, y: Math.round(c.top + i * c.pitch), w: c.w, h: c.h};
    const last = i === 8;
    const pad = {l: 40, t: 3, r: 3, b: last ? 26 : 3};
    const cv = makeCanvas(rect, pad);
    const markers = [];
    if (c.both[i] !== null) markers.push(markerLine(c.both[i], c, bothStyle));
    if (c.smo[i] !== null) markers.push(markerLine(c.smo[i], c, smoStyle));
    if (c.pmo[i] !== null) markers.push(markerLine(c.pmo[i], c, pmoStyle));
    const pts = c.sparse ? sparsePoints(c.sparse[i]) : densePoints(c.dense[i]);
    const tickFont = {family: FONT, size: 12.5};
    new Chart(cv, {
      type: 'line',
      data: {
        datasets: markers.concat([{data: pts, borderColor: '#3a3a3a', borderWidth: 0.9, pointRadius: 0,
                                   spanGaps: false, tension: 0, fill: false}])
      },
      options: {
        responsive: false, animation: false, devicePixelRatio: 1,
        layout: {padding: {left: 0, top: pad.t, right: pad.r, bottom: 0}},
        plugins: {legend: {display: false}, tooltip: {enabled: false}},
        scales: {
          x: {
            type: 'linear', min: 0, max: 365,
            afterBuildTicks: s => { s.ticks = monthTickDays.map(v => ({value: v})); },
            afterFit: fixSize(pad.b, true),
            grid: {display: false, drawTicks: false}, border: {display: false},
            ticks: {display: last, autoSkip: false, maxRotation: 0, padding: 6, color: '#262626', font: tickFont,
                    callback: v => monthTickLabels[monthTickDays.indexOf(v)]}
          },
          y: {
            type: 'linear', min: c.yMin, max: c.yMax,
            afterBuildTicks: s => { s.ticks = c.yTicks.map(v => ({value: v})); },
            afterFit: fixSize(pad.l, false),
            grid: {display: false, drawTicks: false}, border: {display: false},
            ticks: {display: true, autoSkip: false, padding: 5, color: '#262626', font: tickFont, callback: v => String(v)}
          }
        }
      },
      plugins: [framePlugin({tickLen: 3, tickColor: '#666', frameWidth: 1.2, frameColor: '#8a8a8a',
                             label: c.tag + (i + 1), labelFont: '11px ' + FONT,
                             labelDx: 2.5, labelDy: 8, labelFromTop: false})]
    });
  }
});

// ---- titles and axis labels ----
addText('(a)', 560, 22, {fontSize: '29px', fontWeight: 'bold', color: '#111'});
addText('(b)', 300, 689, {fontSize: '30px', fontWeight: 'bold', color: '#111'});
addText('(c)', 848, 689, {fontSize: '30px', fontWeight: 'bold', color: '#111'});
addText('IFREMER', 165, 697, {fontSize: '16px'});
addText('SIR', 437, 698, {fontSize: '16px'});
addText('IFREMER', 711, 699, {fontSize: '16px'});
addText('SIR', 991, 697, {fontSize: '16px'});
const yLabelHtml = '&sigma;<sup style="font-size:9px;vertical-align:6px">0</sup> (dB)';
addText(yLabelHtml, 20, 972, {fontSize: '13px', transform: 'translate(-50%,-50%) rotate(-90deg)'});
addText(yLabelHtml, 571, 972, {fontSize: '13px', transform: 'translate(-50%,-50%) rotate(-90deg)'});

// ---- legend inside panel 12 ----
const lg = document.createElement('div');
lg.className = 'lg';
Object.assign(lg.style, {position: 'absolute', left: '693px', top: '624px', width: '293px', height: '20px',
  border: '1px solid #a0a0a0', background: '#fff', fontSize: '14.3px'});
lg.innerHTML =
  '<span style="position:absolute;left:18px;top:4px;width:10px;height:10px;border-radius:50%;background:rgba(255,40,40,0.4);border:1px solid rgba(255,40,40,0.45);box-sizing:border-box"></span>' +
  '<span style="position:absolute;left:47px;top:3px;line-height:15px">SIR-ASCAT</span>' +
  '<span style="position:absolute;left:145px;top:4px;width:10px;height:10px;border-radius:50%;background:rgba(40,40,255,0.4);border:1px solid rgba(40,40,255,0.45);box-sizing:border-box"></span>' +
  '<span style="position:absolute;left:174px;top:3px;line-height:15px">IFREMER-ASCAT</span>';
page.appendChild(lg);

// ---- legend for the sigma0 panels ----
const lg2 = document.createElement('div');
lg2.className = 'lg';
Object.assign(lg2.style, {position: 'absolute', left: '423px', top: '1268px', width: '263px', height: '22px',
  border: '1px solid #a8a8a8', background: '#fff', fontSize: '11px'});
lg2.innerHTML =
  '<span style="position:absolute;left:3px;top:11px;width:24px;border-top:1px solid #9a9a9a"></span>' +
  '<span style="position:absolute;left:29px;top:5px;line-height:12px">&sigma;<sup style="font-size:7px;vertical-align:4px">0</sup></span>' +
  '<span style="position:absolute;left:49px;top:11px;width:25px;border-top:1.5px dotted #7070ff"></span>' +
  '<span style="position:absolute;left:77px;top:5px;line-height:12px">PMO</span>' +
  '<span style="position:absolute;left:110px;top:11px;width:24px;border-top:1px solid #a0a0ff"></span>' +
  '<span style="position:absolute;left:139px;top:5px;line-height:12px">SMO</span>' +
  '<span style="position:absolute;left:172px;top:10px;width:27px;border-top:2px solid #18e018"></span>' +
  '<span style="position:absolute;left:201px;top:5px;line-height:12px">PMO&amp;SMO</span>';
page.appendChild(lg2);
</script>
</body>
</html>
